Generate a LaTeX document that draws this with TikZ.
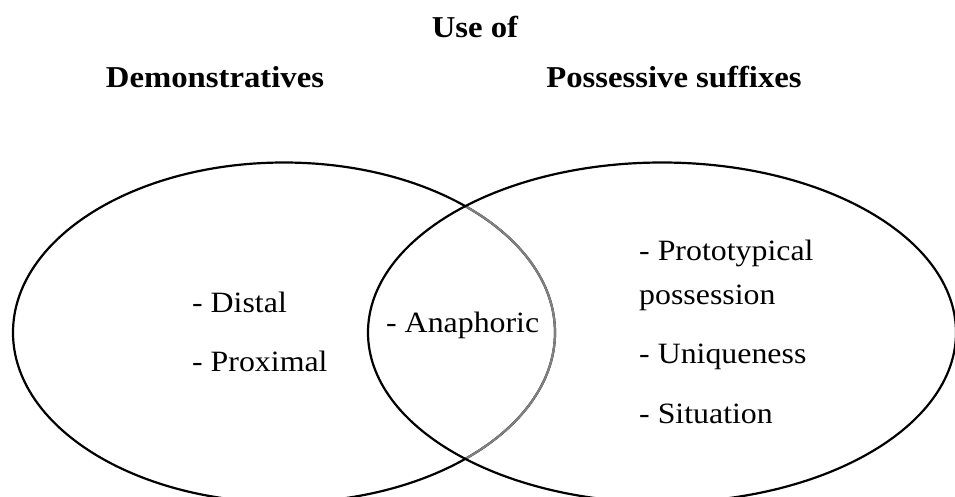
\documentclass[tikz,border=0pt]{standalone}
\usepackage{fontspec}
\setmainfont{Liberation Serif}[FakeStretch=1.08]
\begin{document}
\begin{tikzpicture}[x=1pt,y=-1pt,
  ring/.style={line width=2.2pt, black},
  inner/.style={line width=2.2pt, color=gray},
  head/.style={font=\fontsize{30.3}{35}\selectfont\bfseries, anchor=base, inner sep=0pt},
  item/.style={font=\fontsize{29.5}{34}\selectfont, anchor=base west, inner sep=0pt}]
\useasboundingbox (0,0) rectangle (955,496);
\clip (0,0) rectangle (955,496);
\fill[white] (0,0) rectangle (955,496);
% ellipses
\draw[ring] (284,332.5) ellipse [x radius=271, y radius=170];
\begin{scope}
  \clip (661,332.5) ellipse [x radius=293, y radius=170];
  \draw[inner] (284,332.5) ellipse [x radius=271, y radius=170];
\end{scope}
\draw[ring] (662,332.5) ellipse [x radius=294, y radius=170];
% headings
\node[head] (useof) at (475,37) {Use of};
\node[head] (demo) at (215,87) {Demonstratives};
\node[head] (poss) at (674,87) {Possessive suffixes};
% items
\node[item] (distal) at (192,312) {- Distal};
\node[item] (proximal) at (192,371) {- Proximal};
\node[item] (anaph) at (386,332) {- Anaphoric};
\node[item] (proto) at (639,260) {- Prototypical};
\node[item] (possn) at (639,304) {possession};
\node[item] (uniq) at (639,363) {- Uniqueness};
\node[item] (situ) at (639,423) {- Situation};
\end{tikzpicture}
\end{document}
